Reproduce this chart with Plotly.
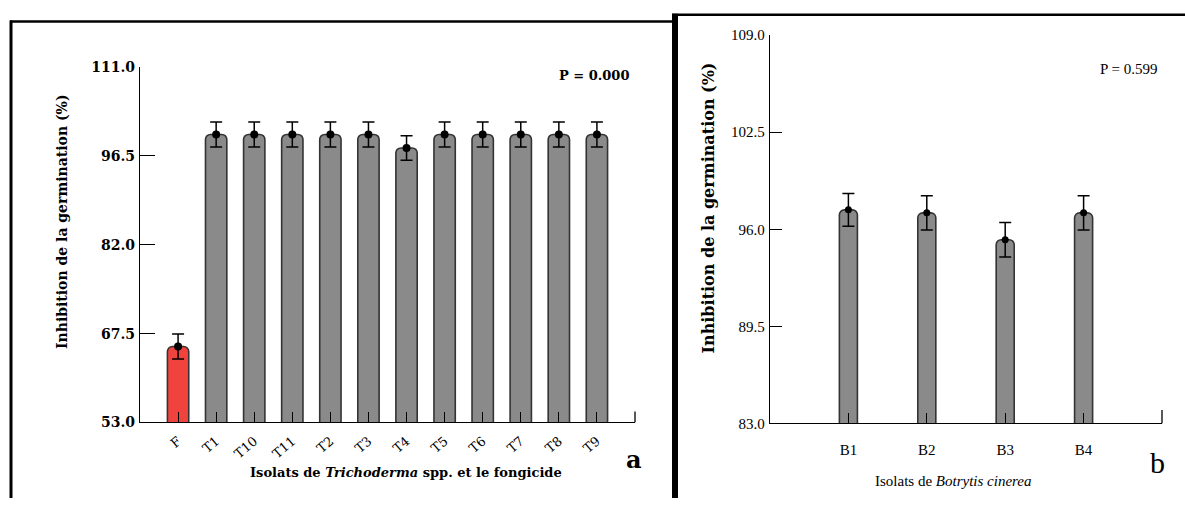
import plotly.graph_objects as go

# Panel a: Trichoderma isolates and the fungicide (F)
isolats_a = ["F", "T1", "T10", "T11", "T2", "T3", "T4", "T5", "T6", "T7", "T8", "T9"]
moyenne_a = [65.4, 100.0, 100.0, 100.0, 100.0, 100.0, 97.8, 100.0, 100.0, 100.0, 100.0, 100.0]
erreur_a = [2.05, 2.05, 2.05, 2.05, 2.05, 2.05, 2.0, 2.05, 2.05, 2.05, 2.05, 2.05]
ticks_a = [53.0, 67.5, 82.0, 96.5, 111.0]

# Panel b: Botrytis cinerea isolates
isolats_b = ["B1", "B2", "B3", "B4"]
moyenne_b = [97.3, 97.1, 95.3, 97.1]
erreur_b = [1.1, 1.15, 1.15, 1.15]
ticks_b = [83.0, 89.5, 96.0, 102.5, 109.0]

W, H = 1185, 506
SERIF = "Liberation Serif, serif"
WIDE = "DejaVu Serif, serif"
GREY = "#8a8a8a"
RED = "#f0433e"
EDGE = "#333333"


def px(x):
    return x / W


def py(y):
    return 1 - y / H


fig = go.Figure()

colors_a = [RED if c == "F" else GREY for c in isolats_a]
fig.add_trace(go.Bar(
    x=isolats_a, y=moyenne_a, base=0, width=0.56,
    marker=dict(color=colors_a, line=dict(color=EDGE, width=1.6), cornerradius=5),
    xaxis="x", yaxis="y", showlegend=False,
))
fig.add_trace(go.Scatter(
    x=isolats_a, y=moyenne_a, mode="markers",
    marker=dict(color="black", size=8),
    error_y=dict(type="data", array=erreur_a, color="black", thickness=1.5, width=6),
    xaxis="x", yaxis="y", showlegend=False,
))

fig.add_trace(go.Bar(
    x=isolats_b, y=moyenne_b, base=0, width=0.23,
    marker=dict(color=GREY, line=dict(color=EDGE, width=1.6), cornerradius=5),
    xaxis="x2", yaxis="y2", showlegend=False,
))
fig.add_trace(go.Scatter(
    x=isolats_b, y=moyenne_b, mode="markers",
    marker=dict(color="black", size=7),
    error_y=dict(type="data", array=erreur_b, color="black", thickness=1.5, width=6),
    xaxis="x2", yaxis="y2", showlegend=False,
))

axis_common = dict(showline=True, linecolor="black", linewidth=1.3, showgrid=False,
                   zeroline=False, ticks="inside", tickcolor="black")

fig.update_layout(
    width=W, height=H,
    margin=dict(l=0, r=0, t=0, b=0),
    paper_bgcolor="white", plot_bgcolor="white",
    font=dict(color="black"),
    xaxis=dict(axis_common, domain=[px(140), px(635)], anchor="y",
               type="category", range=[-1, len(isolats_a)],
               ticklen=10, tickwidth=1.3, tickangle=-40, ticklabelstandoff=5,
               tickfont=dict(family=WIDE, size=13, color="black")),
    yaxis=dict(axis_common, domain=[py(428), py(61)], anchor="x",
               range=[ticks_a[0], ticks_a[-1]], tickvals=ticks_a,
               ticktext=[f"{v:.1f}" for v in ticks_a],
               ticklen=15, tickwidth=1.3, ticklabelstandoff=1,
               tickfont=dict(family=WIDE, size=14, color="black", weight="bold")),
    xaxis2=dict(axis_common, domain=[px(770), px(1162)], anchor="y2",
                type="category", range=[-1, len(isolats_b)],
                ticklen=10, tickwidth=1.3, ticklabelstandoff=12,
                tickfont=dict(family=SERIF, size=15, color="black")),
    yaxis2=dict(axis_common, domain=[py(429), py(28)], anchor="x2",
                range=[ticks_b[0], ticks_b[-1]], tickvals=ticks_b,
                ticktext=[f"{v:.1f}" for v in ticks_b],
                ticklen=12, tickwidth=1.3, ticklabelstandoff=1,
                tickfont=dict(family=SERIF, size=15, color="black")),
)

# End caps at the right end of each x axis
fig.add_shape(type="line", xref="x domain", yref="y", x0=1, x1=1,
              y0=ticks_a[0], y1=ticks_a[0] + 1.8, line=dict(color="black", width=1.3))
fig.add_shape(type="line", xref="x2 domain", yref="y2", x0=1, x1=1,
              y0=ticks_b[0], y1=ticks_b[0] + 0.9, line=dict(color="black", width=1.3))

# Panel frames
fig.add_shape(type="line", xref="paper", yref="paper", x0=px(10), x1=px(672),
              y0=py(14), y1=py(14), line=dict(color="black", width=2.5))
fig.add_shape(type="line", xref="paper", yref="paper", x0=px(11), x1=px(11),
              y0=py(13), y1=0, line=dict(color="black", width=3))
fig.add_shape(type="line", xref="paper", yref="paper", x0=px(672), x1=1,
              y0=py(7), y1=py(7), line=dict(color="black", width=2.5))
fig.add_shape(type="line", xref="paper", yref="paper", x0=px(675), x1=px(675),
              y0=py(6), y1=0, line=dict(color="black", width=6))

ann = [
    dict(x=px(62), y=py(221), text="<b>Inhibition de la germination (%)</b>",
         textangle=-90, font=dict(family=WIDE, size=14)),
    dict(x=px(406), y=py(480),
         text="<b>Isolats de <i>Trichoderma</i> spp. et le fongicide</b>",
         font=dict(family=WIDE, size=13)),
    dict(x=px(594), y=py(70), text="<b>P = 0.000</b>", font=dict(family=WIDE, size=13)),
    dict(x=px(634), y=py(466), text="<b>a</b>", font=dict(family=WIDE, size=24)),
    dict(x=px(708), y=py(207), text="<b>Inhibition de la germination (%)</b>",
         textangle=-90, font=dict(family=WIDE, size=16)),
    dict(x=px(953), y=py(488), text="Isolats de <i>Botrytis cinerea</i>",
         font=dict(family=SERIF, size=15)),
    dict(x=px(1129), y=py(63), text="P = 0.599", font=dict(family=SERIF, size=15)),
    dict(x=px(1157), y=py(469), text="b", font=dict(family=SERIF, size=30)),
]
for a in ann:
    a["font"]["color"] = "black"
    fig.add_annotation(xref="paper", yref="paper", showarrow=False,
                       xanchor="center", yanchor="middle", **a)

fig.write_html("out.html")
